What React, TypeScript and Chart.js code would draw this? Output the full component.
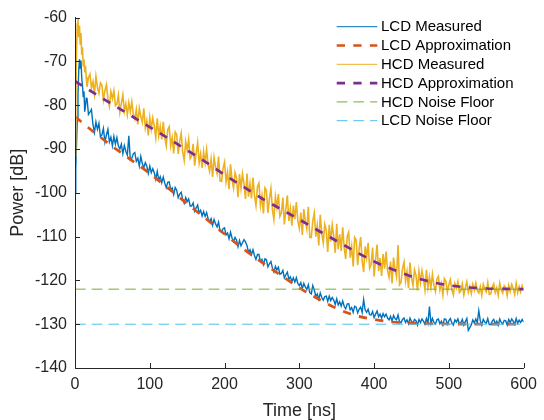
import React, { useEffect, useRef } from 'react';
import { Chart, registerables } from 'chart.js';

Chart.register(...registerables);

// ---------- data ----------
const xTicks = [0, 100, 200, 300, 400, 500, 600];
const yTicks = [-140, -130, -120, -110, -100, -90, -80, -70, -60];

// 1 ns sampling for the first 15 ns, then a regular 2 ns grid from 16 ns to 600 ns
const earlyTimes = [0, 1, 2, 3, 4, 5, 6, 7, 8, 9, 10, 11, 12, 13, 14, 15];
const gridStart = 16;
const gridStep = 2;

const lcdMeasuredEarly = [-100.0, -94.5, -89.0, -83.5, -77.5, -72.0, -69.5, -71.5, -69.8, -73.8, -75.5, -78.0, -76.8, -81.5, -80.2, -78.4];
const lcdMeasured = [
  -78.3, -82.1, -81.6, -81.0, -84.4, -86.2, -83.8, -85.5, -84.1, -87.2, // 16..34
  -86.8, -85.3, -88.4, -86.8, -85.5, -88.4, -87.3, -89.3, -87.1, -88.9, // 36..54
  -87.4, -89.3, -90.0, -88.9, -91.1, -89.2, -90.5, -91.4, -87.0, -92.5, // 56..74
  -92.1, -91.1, -90.8, -92.8, -92.1, -93.9, -91.7, -93.3, -94.3, -93.1, // 76..94
  -93.9, -95.6, -93.9, -95.4, -94.5, -95.4, -96.9, -95.1, -97.1, -96.3, // 96..114
  -97.7, -96.4, -97.8, -98.8, -97.6, -97.5, -99.4, -98.9, -100.4, -98.8, // 116..134
  -99.4, -101.1, -100.3, -99.9, -101.5, -102.4, -101.1, -102.0, -101.4, -103.0, // 136..154
  -103.0, -102.3, -104.2, -103.4, -102.8, -104.6, -104.0, -105.3, -104.3, -105.4, // 156..174
  -104.5, -105.9, -106.6, -105.9, -107.4, -106.1, -107.1, -107.8, -106.7, -108.8, // 176..194
  -109.0, -108.2, -108.0, -109.6, -109.2, -110.5, -109.0, -110.3, -111.1, -110.2, // 196..214
  -110.8, -112.3, -110.9, -112.1, -111.4, -110.7, -111.2, -112.0, -113.6, -113.0, // 216..234
  -114.1, -113.0, -114.3, -115.2, -114.1, -114.1, -115.7, -115.2, -116.4, -115.1, // 236..254
  -115.3, -116.9, -116.2, -115.7, -117.2, -118.1, -116.8, -117.6, -117.0, -118.6, // 256..274
  -118.4, -117.7, -119.4, -118.7, -118.1, -119.7, -119.2, -120.3, -119.4, -120.4, // 276..294
  -119.4, -120.7, -121.2, -120.5, -121.9, -120.7, -121.5, -122.1, -121.0, -122.8, // 296..314
  -123.1, -121.2, -122.2, -123.6, -123.1, -124.3, -122.9, -123.9, -124.5, -123.7, // 316..334
  -123.6, -124.8, -123.6, -124.6, -123.9, -124.5, -125.5, -124.2, -125.6, -124.9, // 336..354
  -125.9, -124.7, -125.9, -126.5, -125.4, -125.3, -126.7, -126.2, -127.3, -125.9, // 356..374
  -126.1, -127.4, -126.6, -126.1, -127.3, -124.4, -126.7, -127.3, -126.6, -127.8, // 376..394
  -127.9, -127.1, -128.5, -127.7, -127.0, -128.3, -127.7, -128.6, -127.6, -128.3, // 396..414
  -127.7, -128.6, -129.0, -128.2, -129.3, -128.0, -128.7, -129.0, -127.9, -129.4, // 416..434
  -129.7, -128.9, -128.6, -129.6, -129.0, -129.9, -128.6, -129.4, -129.8, -128.9, // 436..454
  -129.2, -130.2, -128.9, -129.6, -128.8, -129.3, -130.0, -128.7, -129.8, -126.0, // 456..474
  -129.8, -128.7, -129.6, -130.0, -129.0, -128.8, -129.9, -129.3, -130.2, -128.8, // 476..494
  -128.9, -130.0, -129.2, -128.7, -129.7, -130.2, -129.0, -129.5, -128.8, -129.9, // 496..514
  -129.7, -128.9, -130.2, -129.4, -128.7, -131.4, -130.8, -130.1, -129.0, -129.7, // 516..534
  -128.8, -129.7, -126.9, -129.2, -130.2, -128.9, -129.5, -129.8, -128.7, -130.1, // 536..554
  -130.1, -129.3, -128.9, -129.9, -129.3, -130.2, -128.8, -129.6, -130.0, -129.1, // 556..574
  -129.2, -130.2, -128.9, -129.6, -128.8, -129.3, -130.0, -128.7, -129.8, -129.1, // 576..594
  -129.6, -128.9, -129.5, // 596..600
];

const hcdMeasuredEarly = [-91.6, -80.0, -68.0, -61.5, -60.3, -64.5, -61.8, -66.0, -63.5, -68.5, -66.8, -71.0, -69.5, -72.5, -71.0, -73.6];
const hcdMeasured = [
  -75.8, -73.7, -72.9, -76.1, -74.6, -77.4, -73.4, -75.9, -77.3, -74.9, // 16..34
  -75.4, -78.8, -76.7, -75.3, -78.5, -80.2, -76.9, -78.5, -76.7, -80.1, // 36..54
  -79.8, -77.7, -81.6, -79.5, -77.6, -81.4, -79.7, -82.2, -79.4, -81.5, // 56..74
  -79.2, -82.1, -83.2, -81.0, -84.4, -80.7, -82.6, -83.9, -80.7, -85.2, // 76..94
  -83.5, -86.9, -82.8, -85.4, -82.9, -84.7, -87.4, -83.0, -87.0, -84.8, // 96..114
  -87.8, -83.8, -87.3, -89.3, -85.6, -84.9, -89.3, -87.4, -91.0, -86.1, // 116..134
  -86.7, -91.1, -88.3, -86.4, -90.6, -92.6, -88.3, -90.3, -87.8, -92.2, // 136..154
  -91.6, -88.8, -93.8, -91.0, -88.5, -93.2, -91.1, -94.3, -90.6, -93.2, // 156..174
  -90.1, -93.6, -95.1, -92.3, -96.4, -91.9, -94.2, -95.6, -91.7, -97.3, // 176..194
  -97.4, -94.4, -93.0, -97.5, -95.3, -99.2, -93.5, -97.0, -98.9, -95.4, // 196..214
  -96.6, -101.0, -95.7, -99.0, -95.7, -98.0, -101.4, -95.6, -100.9, -97.9, // 216..234
  -101.3, -96.5, -100.6, -102.9, -98.6, -97.8, -102.9, -100.6, -104.7, -98.9, // 236..254
  -99.5, -104.6, -101.3, -99.0, -103.8, -106.1, -100.9, -103.3, -100.3, -105.4, // 256..274
  -104.6, -101.1, -107.2, -103.7, -100.6, -106.4, -103.6, -107.5, -102.9, -106.0, // 276..294
  -102.1, -106.4, -108.1, -104.5, -109.6, -103.7, -106.6, -108.3, -103.2, -110.2, // 296..314
  -110.2, -106.4, -104.6, -110.0, -107.4, -112.0, -105.0, -109.2, -111.4, -107.2, // 316..334
  -108.5, -113.5, -107.3, -111.1, -107.3, -109.9, -113.7, -107.1, -112.9, -109.5, // 336..354
  -113.3, -107.9, -112.5, -115.1, -110.0, -109.0, -114.8, -112.2, -116.8, -110.2, // 356..374
  -110.8, -116.5, -112.7, -110.1, -115.5, -118.1, -112.2, -114.8, -111.4, -117.2, // 376..394
  -116.3, -112.5, -119.1, -115.2, -111.8, -117.9, -114.9, -119.0, -114.0, -117.3, // 396..414
  -113.4, -117.7, -119.3, -115.7, -120.7, -114.8, -117.6, -119.2, -111.9, -121.0, // 416..434
  -120.5, -117.3, -115.8, -120.2, -118.0, -121.8, -115.9, -119.4, -121.2, -117.6, // 436..454
  -118.8, -122.3, -117.9, -120.5, -117.8, -119.6, -122.2, -117.6, -121.6, -119.2, // 456..474
  -121.6, -118.6, -121.1, -122.5, -119.7, -119.1, -122.2, -120.7, -123.3, -119.6, // 476..494
  -120.2, -122.7, -121.0, -119.8, -122.2, -123.3, -120.7, -121.8, -120.3, -122.8, // 496..514
  -122.4, -120.8, -123.3, -121.7, -120.3, -122.7, -121.4, -123.0, -120.9, -122.2, // 516..534
  -120.6, -122.3, -122.9, -121.4, -123.4, -120.9, -122.0, -122.6, -120.5, -123.2, // 536..554
  -123.1, -121.5, -120.8, -122.8, -121.7, -123.4, -120.6, -122.2, -122.9, -121.2, // 556..574
  -121.7, -123.5, -121.1, -122.5, -120.9, -121.8, -123.2, -120.7, -122.8, -121.4, // 576..594
  -122.6, -121.2, -122.3, // 596..600
];

const approxTimes = [0, 25, 50, 75, 100, 125, 150, 175, 200, 225, 250, 275, 300, 325, 350, 375, 400, 425, 450, 475, 500, 525, 550, 575, 600];
const lcdApprox = [-82.6, -86.1, -89.4, -92.5, -95.6, -99.0, -102.5, -105.9, -109.4, -112.8, -115.9, -118.8, -121.7, -124.2, -126.4, -128.0, -128.9, -129.5, -129.75, -129.9, -129.95, -130.0, -130.0, -130.0, -130.0];
const hcdApprox = [-74.5, -77.2, -79.8, -82.4, -85.0, -87.6, -90.3, -93.0, -95.9, -98.6, -101.3, -103.7, -106.1, -108.6, -111.0, -113.4, -115.7, -117.5, -119.1, -120.3, -121.1, -121.6, -121.85, -121.95, -122.0];

const floorTimes = [0, 600];
const hcdNoiseFloor = [-122, -122];
const lcdNoiseFloor = [-130, -130];

const seriesLabels = ['LCD Measured', 'LCD Approximation', 'HCD Measured', 'HCD Approximation', 'HCD Noise Floor', 'LCD Noise Floor'];

// ---------- styling ----------
const FONT = "'Liberation Sans', Arial, Helvetica, sans-serif";
const AXIS = '#262626';
const BLUE = '#0072BD';
const ORANGE = '#D95319';
const YELLOW = '#EDB120';
const PURPLE = '#7E2F8E';
const GREEN = '#77AC30';
const CYAN = '#4DBEEE';
const THICK_DASH = [8.3, 8.3];
const THIN_DASH = [10.7, 6];

function measuredPoints(early: number[], regular: number[]) {
  const pts = early.map((v, i) => ({ x: earlyTimes[i], y: v }));
  regular.forEach((v, i) => pts.push({ x: gridStart + gridStep * i, y: v }));
  return pts;
}
function pairPoints(times: number[], values: number[]) {
  return values.map((v, i) => ({ x: times[i], y: v }));
}

const inwardTicks = {
  id: 'inwardTicks',
  afterDraw(chart: any) {
    const { ctx, chartArea, scales } = chart;
    ctx.save();
    ctx.strokeStyle = AXIS;
    ctx.lineWidth = 1;
    ctx.beginPath();
    scales.x.ticks.forEach((t: any) => {
      const px = Math.round(scales.x.getPixelForValue(t.value)) + 0.5;
      ctx.moveTo(px, chartArea.bottom);
      ctx.lineTo(px, chartArea.bottom - 5);
    });
    scales.y.ticks.forEach((t: any) => {
      const py = Math.round(scales.y.getPixelForValue(t.value)) + 0.5;
      ctx.moveTo(chartArea.left, py);
      ctx.lineTo(chartArea.left + 5, py);
    });
    ctx.stroke();
    ctx.restore();
  },
};

const matlabLegend = {
  id: 'matlabLegend',
  afterDraw(chart: any) {
    const ctx = chart.ctx;
    ctx.save();
    ctx.font = `15px ${FONT}`;
    ctx.textBaseline = 'middle';
    ctx.textAlign = 'left';
    chart.data.datasets.forEach((ds: any, i: number) => {
      const y = 26.7 + i * 18.8;
      const dashed = ds.borderDash && ds.borderDash.length > 0;
      ctx.beginPath();
      ctx.setLineDash(dashed ? ds.borderDash : []);
      ctx.lineDashOffset = 0;
      ctx.strokeStyle = ds.borderColor;
      ctx.lineWidth = dashed ? ds.borderWidth : 1;
      ctx.lineCap = 'butt';
      ctx.moveTo(336.7, y);
      ctx.lineTo(377.3, y);
      ctx.stroke();
      ctx.setLineDash([]);
      ctx.fillStyle = '#000000';
      ctx.fillText(ds.label, 381, y + 0.5);
    });
    ctx.restore();
  },
};

export default function App() {
  const canvasRef = useRef<HTMLCanvasElement | null>(null);

  useEffect(() => {
    if (!canvasRef.current) return;
    Chart.defaults.font.family = FONT;
    const chart = new Chart(canvasRef.current, {
      type: 'line',
      data: {
        datasets: [
          { label: seriesLabels[0], data: measuredPoints(lcdMeasuredEarly, lcdMeasured), borderColor: BLUE, borderWidth: 1.4, borderDash: [], pointRadius: 0, order: 6 },
          { label: seriesLabels[1], data: pairPoints(approxTimes, lcdApprox), borderColor: ORANGE, borderWidth: 2.7, borderDash: THICK_DASH, pointRadius: 0, cubicInterpolationMode: 'monotone', order: 5 },
          { label: seriesLabels[2], data: measuredPoints(hcdMeasuredEarly, hcdMeasured), borderColor: YELLOW, borderWidth: 1.6, borderDash: [], pointRadius: 0, order: 4 },
          { label: seriesLabels[3], data: pairPoints(approxTimes, hcdApprox), borderColor: PURPLE, borderWidth: 2.7, borderDash: THICK_DASH, pointRadius: 0, cubicInterpolationMode: 'monotone', order: 3 },
          { label: seriesLabels[4], data: pairPoints(floorTimes, hcdNoiseFloor), borderColor: GREEN, borderWidth: 1, borderDash: THIN_DASH, pointRadius: 0, order: 2 },
          { label: seriesLabels[5], data: pairPoints(floorTimes, lcdNoiseFloor), borderColor: CYAN, borderWidth: 1, borderDash: THIN_DASH, pointRadius: 0, order: 1 },
        ] as any,
      },
      options: {
        responsive: false,
        animation: false,
        devicePixelRatio: 1,
        layout: { padding: { top: 13, right: 17, left: 0, bottom: 0 } },
        plugins: { legend: { display: false }, tooltip: { enabled: false } },
        elements: { line: { tension: 0, borderCapStyle: 'butt', borderJoinStyle: 'miter' } },
        scales: {
          x: {
            type: 'linear',
            min: 0,
            max: 600,
            afterBuildTicks: (scale: any) => { scale.ticks = xTicks.map((v) => ({ value: v })); },
            afterFit: (scale: any) => { scale.height = 52; },
            grid: { display: false, drawTicks: false, tickLength: 0 },
            border: { display: true, color: AXIS, width: 1, z: 1 },
            ticks: { color: AXIS, font: { size: 16, family: FONT }, padding: 7, maxRotation: 0, autoSkip: false, callback: (v: any) => String(v) },
            title: { display: true, text: 'Time [ns]', color: AXIS, font: { size: 18, family: FONT, lineHeight: 1 }, padding: { top: 0, bottom: 0 } },
          },
          y: {
            type: 'linear',
            min: -140,
            max: -60,
            afterBuildTicks: (scale: any) => { scale.ticks = yTicks.map((v) => ({ value: v })); },
            afterFit: (scale: any) => { scale.width = 75; },
            grid: { display: false, drawTicks: false, tickLength: 0 },
            border: { display: true, color: AXIS, width: 1, z: 1 },
            ticks: { color: AXIS, font: { size: 16, family: FONT }, padding: 8, autoSkip: false, callback: (v: any) => String(v) },
            title: { display: true, text: 'Power [dB]', color: AXIS, font: { size: 18, family: FONT, lineHeight: 1 }, padding: { top: 9, bottom: 0 } },
          },
        },
      } as any,
      plugins: [inwardTicks, matlabLegend],
    });
    return () => chart.destroy();
  }, []);

  return (
    <div style={{ position: 'absolute', left: 0, top: 0, width: 544, height: 420, background: '#ffffff' }}>
      <canvas ref={canvasRef} width={544} height={420} style={{ width: 544, height: 420, display: 'block' }} />
    </div>
  );
}
